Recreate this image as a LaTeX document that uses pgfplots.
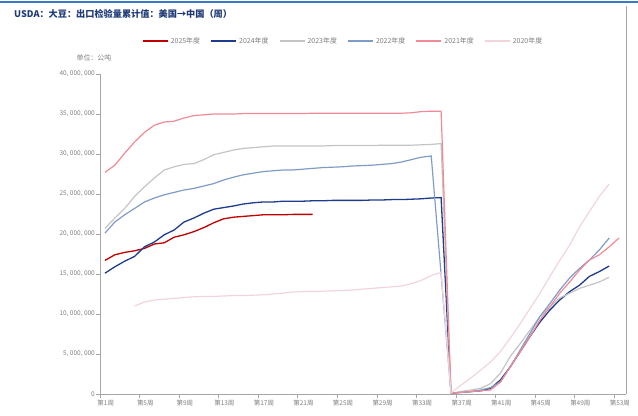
\documentclass[border=0pt]{standalone}
\usepackage{fontspec}
\setmainfont{Noto Sans CJK SC}
\usepackage{pgfplots}
\pgfplotsset{compat=1.18}
\usepackage{pgfplotstable}

\definecolor{c2025}{HTML}{C00000}
\definecolor{c2024}{HTML}{1F3C8C}
\definecolor{c2023}{HTML}{C4C4C4}
\definecolor{c2022}{HTML}{7F9CC8}
\definecolor{c2021}{HTML}{F08A96}
\definecolor{c2020}{HTML}{F2D4DA}
\definecolor{axisgray}{HTML}{A6A6A6}
\definecolor{labgray}{HTML}{7F7F7F}
\definecolor{titleblue}{HTML}{1F3A78}
\definecolor{barblue}{HTML}{3C78C8}

% values in million tonnes, week number w
\pgfplotstableread{
w v
1 16.7
2 17.4
3 17.7
4 17.9
5 18.2
6 18.75
7 18.9
8 19.6
9 19.9
10 20.3
11 20.8
12 21.4
13 21.9
14 22.1
15 22.2
16 22.3
17 22.4
18 22.4
19 22.4
20 22.45
21 22.45
22 22.45
}\dA

\pgfplotstableread{
w v
1 15.1
2 15.9
3 16.6
4 17.2
5 18.4
6 19.0
7 19.9
8 20.5
9 21.5
10 22.0
11 22.6
12 23.1
13 23.3
14 23.5
15 23.75
16 23.9
17 24.0
18 24.0
19 24.1
20 24.1
21 24.1
22 24.15
23 24.15
24 24.2
25 24.2
26 24.2
27 24.2
28 24.25
29 24.25
30 24.3
31 24.3
32 24.35
33 24.4
34 24.5
35 24.55
36 0.1
37 0.2
38 0.3
39 0.4
40 0.7
41 1.75
42 3.4
43 5.3
44 7.2
45 9.0
46 10.5
47 11.75
48 12.8
49 13.6
50 14.7
51 15.3
52 16.0
}\dB

\pgfplotstableread{
w v
1 20.7
2 22.0
3 23.2
4 24.7
5 25.9
6 27.0
7 28.0
8 28.4
9 28.7
10 28.8
11 29.3
12 29.9
13 30.2
14 30.5
15 30.7
16 30.8
17 30.9
18 31.0
19 31.0
20 31.0
21 31.0
22 31.0
23 31.0
24 31.05
25 31.05
26 31.05
27 31.05
28 31.05
29 31.1
30 31.1
31 31.1
32 31.1
33 31.15
34 31.2
35 31.3
36 0.1
37 0.3
38 0.5
39 0.7
40 1.3
41 2.6
42 4.7
43 6.3
44 8.0
45 9.7
46 10.9
47 12.0
48 12.6
49 13.2
50 13.6
51 14.0
52 14.6
}\dC

\pgfplotstableread{
w v
1 20.1
2 21.5
3 22.4
4 23.2
5 24.0
6 24.5
7 24.9
8 25.2
9 25.5
10 25.7
11 26.0
12 26.3
13 26.75
14 27.1
15 27.4
16 27.6
17 27.8
18 27.9
19 28.0
20 28.0
21 28.1
22 28.2
23 28.3
24 28.35
25 28.4
26 28.5
27 28.55
28 28.6
29 28.7
30 28.8
31 29.0
32 29.3
33 29.6
34 29.75
36 0.1
37 0.2
38 0.3
39 0.5
40 0.8
41 1.5
42 3.4
43 5.5
44 7.6
45 9.7
46 11.3
47 13.0
48 14.5
49 15.7
50 16.75
51 18.0
52 19.5
}\dD

\pgfplotstableread{
w v
1 27.7
2 28.6
3 30.1
4 31.5
5 32.7
6 33.6
7 34.0
8 34.1
9 34.5
10 34.8
11 34.9
12 35.0
13 35.0
14 35.0
15 35.05
16 35.05
17 35.05
18 35.05
19 35.05
20 35.05
21 35.05
22 35.1
23 35.1
24 35.1
25 35.1
26 35.1
27 35.1
28 35.1
29 35.1
30 35.1
31 35.1
32 35.15
33 35.3
34 35.35
35 35.35
36 0.1
37 0.2
38 0.3
39 0.4
40 0.5
41 1.5
42 3.4
43 5.3
44 7.2
45 9.25
46 10.9
47 12.6
48 14.0
49 15.5
50 16.75
51 17.4
52 18.4
53 19.5
}\dE

\pgfplotstableread{
w v
4 11.0
5 11.5
6 11.75
7 11.85
8 11.95
9 12.05
10 12.15
11 12.2
12 12.2
13 12.25
14 12.3
15 12.3
16 12.35
17 12.4
18 12.5
19 12.6
20 12.75
21 12.8
22 12.8
23 12.85
24 12.9
25 12.95
26 13.0
27 13.1
28 13.2
29 13.3
30 13.4
31 13.5
32 13.8
33 14.2
34 14.8
35 15.2
36 0.15
37 1.1
38 2.0
39 3.0
40 4.0
41 5.3
42 7.0
43 8.8
44 10.7
45 12.6
46 14.7
47 16.7
48 18.6
49 20.9
50 22.8
51 24.7
52 26.25
}\dF

\begin{document}
\begin{tikzpicture}
\useasboundingbox (-100bp,-22bp) rectangle (538bp,394bp);
% top bar and title
\draw[barblue, line width=2.5bp] (-100bp,392bp) -- (538bp,392bp);
\node[anchor=west, inner sep=0pt, text=titleblue, font=\bfseries\fontsize{9.2}{10}\selectfont]
  at (-86bp,380bp) {USDA：大豆：出口检验量累计值：美国→中国（周）};
\node[inner sep=0pt, text=labgray, font=\fontsize{7}{8}\selectfont]
  at (-6bp,336bp) {单位：公吨};
\draw[axisgray, line width=0.6bp] (526bp,0bp) -- (526bp,388bp);

\begin{axis}[
  at={(0,0)}, anchor=south west,
  scale only axis, width=526bp, height=320bp,
  xmin=0.5, xmax=53.7, ymin=0, ymax=40000000,
  axis x line*=bottom, axis y line*=left,
  axis line style={draw=axisgray, line width=0.6bp},
  tick align=outside, major tick length=4bp,
  tick style={draw=axisgray, line width=0.6bp},
  ytick={0,5000000,10000000,15000000,20000000,25000000,30000000,35000000,40000000},
  scaled y ticks=false,
  yticklabel style={/pgf/number format/fixed, /pgf/number format/precision=0,
    /pgf/number format/1000 sep={,\ }, /pgf/number format/assume math mode=true,
    font=\fontsize{6.5}{7}\selectfont, text=labgray, inner sep=1bp},
  xtick={0.5,4.5,...,52.5}, xticklabels={},
  extra x ticks={1,5,...,53},
  extra x tick labels={第1周,第5周,第9周,第13周,第17周,第21周,第25周,第29周,第33周,第37周,第41周,第45周,第49周,第53周},
  extra x tick style={major tick length=0pt, tick style={draw=none}},
  xticklabel style={font=\fontsize{6.5}{7}\selectfont, text=labgray, yshift=-2.5bp, xshift=0.8bp},
  legend columns=6,
  legend style={at={(0.462,1.103)}, anchor=center, draw=none, fill=none,
    font=\fontsize{7}{8}\selectfont, text=labgray,
    /tikz/every even column/.append style={column sep=8bp}},
  legend image code/.code={\draw[#1, line width=2bp] (0bp,0bp) -- (25bp,0bp);},
  clip=false,
]
\addplot[c2025, line width=1.3bp] table[x=w, y expr=\thisrow{v}*1000000] {\dA};
\addlegendentry{2025年度}
\addplot[c2024, line width=1.3bp] table[x=w, y expr=\thisrow{v}*1000000] {\dB};
\addlegendentry{2024年度}
\addplot[c2023, line width=1.2bp] table[x=w, y expr=\thisrow{v}*1000000] {\dC};
\addlegendentry{2023年度}
\addplot[c2022, line width=1.2bp] table[x=w, y expr=\thisrow{v}*1000000] {\dD};
\addlegendentry{2022年度}
\addplot[c2021, line width=1.2bp] table[x=w, y expr=\thisrow{v}*1000000] {\dE};
\addlegendentry{2021年度}
\addplot[c2020, line width=1.2bp] table[x=w, y expr=\thisrow{v}*1000000] {\dF};
\addlegendentry{2020年度}
\end{axis}
\end{tikzpicture}
\end{document}
